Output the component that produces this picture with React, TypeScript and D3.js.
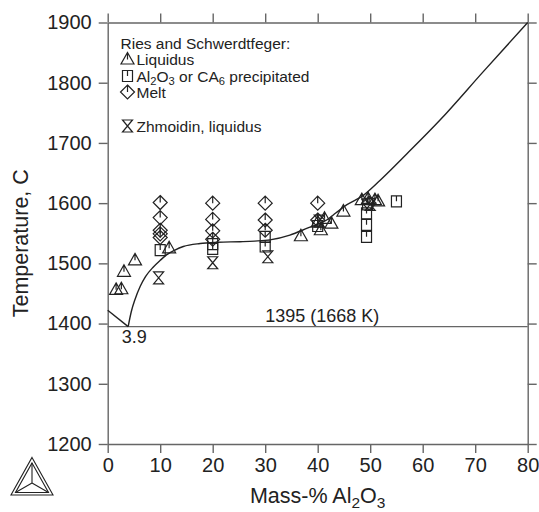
import React, { useEffect, useRef } from "react";
import * as d3 from "d3";

// axis ticks
const xTicks = [0, 10, 20, 30, 40, 50, 60, 70, 80];
const yTicks = [1200, 1300, 1400, 1500, 1600, 1700, 1800, 1900];

// calculated liquidus (CaO side, metastable branch down to eutectic)
const leftX = [0, 3.9];
const leftT = [1422, 1395];

// calculated liquidus from eutectic to 80 %
const curveX = [3.9, 4.5, 5.2, 6.2, 7.2, 8.7, 10, 11.2, 12.8, 14.4, 17.6, 21, 25.2, 28, 30.9, 34.7, 37.9, 41.7, 43.5, 45.5, 48.7, 51.9, 57, 63.3, 71.5, 80];
const curveT = [1395, 1420, 1440, 1462, 1478, 1494, 1505, 1514, 1522, 1528, 1533, 1535, 1536, 1537, 1539, 1547, 1558, 1572, 1584, 1597, 1613, 1638, 1682, 1738, 1818, 1900];

// eutectic
const eutecticX = 3.9;
const eutecticT = 1395;
const eutecticLabel = "3.9";
const isothermLabel = "1395 (1668 K)";

// Ries and Schwerdtfeger: liquidus
const liqX = [1.6, 2.6, 3.1, 5.2, 11.7, 36.8, 40, 40.6, 41.3, 42.6, 44.9, 48.4, 49.6, 50.9, 51.5];
const liqT = [1456, 1457, 1486, 1505, 1525, 1545, 1568, 1555, 1574, 1566, 1586, 1605, 1607, 1605, 1603];

// Al2O3 or CA6 precipitated
const precX = [10, 20, 20, 30, 30, 40, 49.3, 49.3, 49.3, 49.5, 55];
const precT = [1522, 1532, 1524, 1544, 1528, 1562, 1583, 1564, 1544, 1598, 1603];

// Melt
const meltX = [10, 10, 10, 10, 10, 20, 20, 20, 20, 30, 30, 30, 40, 40, 49.8];
const meltT = [1601, 1576, 1555, 1549, 1543, 1600, 1573, 1554, 1540, 1600, 1572, 1555, 1600, 1572, 1600];

// Zhmoidin, liquidus
const zhmX = [9.7, 20, 30.5, 40.3, 50];
const zhmT = [1476, 1501, 1511, 1570, 1598];

const legendTitle = "Ries and Schwerdtfeger:";
const legendLabels = [
  [{ t: "Liquidus" }],
  [{ t: "Al" }, { t: "2", sub: true }, { t: "O" }, { t: "3", sub: true }, { t: " or CA" }, { t: "6", sub: true }, { t: " precipitated" }],
  [{ t: "Melt" }],
  [{ t: "Zhmoidin, liquidus" }],
];

const FONT = "'Liberation Sans', Arial, Helvetica, sans-serif";
const INK = "#222";
const AXIS = "#666";

// symbol outlines (relative to the point)
const symbolPath = (kind) => {
  if (kind === "tri") return "M0,-7L6.5,4.5L-6.5,4.5Z M0,-7L0,0";
  if (kind === "sq") return "M-5,-5.5H5V5.5H-5Z M0,-5.5V0";
  if (kind === "dia") return "M0,-7L7,0L0,7L-7,0Z M0,-7V0";
  return "M-5,-6H5L-5,6H5Z";
};

function addText(g, parts, x, y, size, drop = 5) {
  const text = g.append("text")
    .attr("x", x)
    .attr("y", y)
    .attr("font-size", size)
    .attr("font-family", FONT)
    .attr("fill", INK);
  let shifted = false;
  parts.forEach((p) => {
    const ts = text.append("tspan").text(p.t);
    if (p.sub && !shifted) {
      ts.attr("dy", drop).attr("font-size", size * 0.72);
      shifted = true;
    } else if (!p.sub && shifted) {
      ts.attr("dy", -drop);
      shifted = false;
    }
  });
  return text;
}

export default function App() {
  const svgRef = useRef(null);

  useEffect(() => {
    const width = 539;
    const height = 512;
    const margin = { top: 22.5, right: 11.3, bottom: 68, left: 107.7 };

    const svg = d3.select(svgRef.current)
      .attr("width", width)
      .attr("height", height);
    svg.selectAll("*").remove();

    const x = d3.scaleLinear().domain([0, 80]).range([margin.left, width - margin.right]);
    const y = d3.scaleLinear().domain([1200, 1900]).range([height - margin.bottom, margin.top]);

    const axisStyle = (g) => {
      g.select(".domain").attr("stroke", AXIS).attr("stroke-width", 1.4);
      g.selectAll(".tick line").attr("stroke", AXIS).attr("stroke-width", 1.4);
      g.selectAll(".tick text").attr("fill", INK).attr("font-size", 20).attr("font-family", FONT);
    };

    svg.append("g")
      .attr("transform", `translate(0,${y(1200)})`)
      .call(d3.axisBottom(x).tickValues(xTicks).tickSize(9).tickSizeOuter(0).tickPadding(5))
      .call(axisStyle);
    svg.append("g")
      .attr("transform", `translate(0,${y(1900)})`)
      .call(d3.axisTop(x).tickValues(xTicks).tickSize(9).tickSizeOuter(0).tickFormat(() => ""))
      .call(axisStyle);
    svg.append("g")
      .attr("transform", `translate(${x(0)},0)`)
      .call(d3.axisLeft(y).tickValues(yTicks).tickSize(9).tickSizeOuter(0).tickPadding(7).tickFormat(d3.format("d")))
      .call(axisStyle);
    svg.append("g")
      .attr("transform", `translate(${x(80)},0)`)
      .call(d3.axisRight(y).tickValues(yTicks).tickSize(9).tickSizeOuter(0).tickFormat(() => ""))
      .call(axisStyle);

    // eutectic isotherm
    svg.append("line")
      .attr("x1", x(0)).attr("x2", x(80))
      .attr("y1", y(eutecticT)).attr("y2", y(eutecticT))
      .attr("stroke", AXIS).attr("stroke-width", 1.4);

    const line = d3.line().x((d) => x(d[0])).y((d) => y(d[1]));
    svg.append("path")
      .datum(leftX.map((v, i) => [v, leftT[i]]))
      .attr("d", line)
      .attr("fill", "none").attr("stroke", INK).attr("stroke-width", 1.4);
    svg.append("path")
      .datum(curveX.map((v, i) => [v, curveT[i]]))
      .attr("d", line.curve(d3.curveMonotoneX))
      .attr("fill", "none").attr("stroke", INK).attr("stroke-width", 1.4);

    addText(svg, [{ t: isothermLabel }], x(30), y(eutecticT) - 5, 18);
    addText(svg, [{ t: eutecticLabel }], x(eutecticX) + 6, y(eutecticT) + 16, 18)
      .attr("text-anchor", "middle");

    // experimental points
    const sets = [
      { kind: "tri", xs: liqX, ts: liqT },
      { kind: "sq", xs: precX, ts: precT },
      { kind: "dia", xs: meltX, ts: meltT },
      { kind: "hg", xs: zhmX, ts: zhmT },
    ];
    sets.forEach((s) => {
      svg.append("g")
        .selectAll("path")
        .data(s.xs.map((v, i) => [v, s.ts[i]]))
        .join("path")
        .attr("transform", (d) => `translate(${x(d[0])},${y(d[1])})`)
        .attr("d", symbolPath(s.kind))
        .attr("fill", "none")
        .attr("stroke", INK)
        .attr("stroke-width", 1.2);
    });

    // legend
    const lg = svg.append("g");
    addText(lg, [{ t: legendTitle }], 120.5, 48.5, 15.5);
    const rows = [65, 81.5, 97.5, 131.5];
    const kinds = ["tri", "sq", "dia", "hg"];
    legendLabels.forEach((parts, i) => {
      lg.append("path")
        .attr("transform", `translate(${127.5},${rows[i] - 5.5})`)
        .attr("d", symbolPath(kinds[i]))
        .attr("fill", "none").attr("stroke", INK).attr("stroke-width", 1.2);
      addText(lg, parts, 136.5, rows[i], 15.5, 3.5);
    });

    // axis titles
    svg.append("text")
      .attr("transform", `translate(28,${(y(1200) + y(1900)) / 2 + 10}) rotate(-90)`)
      .attr("text-anchor", "middle")
      .attr("font-size", 21.5)
      .attr("font-family", FONT)
      .attr("fill", INK)
      .text("Temperature, C");
    addText(svg, [{ t: "Mass-% Al" }, { t: "2", sub: true }, { t: "O" }, { t: "3", sub: true }], (x(0) + x(80)) / 2, 503, 21.5)
      .attr("text-anchor", "middle");

    // Thermo-Calc logo
    const logo = svg.append("g").attr("fill", "none").attr("stroke", INK).attr("stroke-width", 1.1);
    logo.append("path").attr("d", "M32,457.5L53,495L11,495Z");
    logo.append("path").attr("d", "M32,463L48.5,492.5L15.5,492.5Z");
    logo.append("path").attr("d", "M32,463L32,483M48.5,492.5L32,483M15.5,492.5L32,483");
  }, []);

  return (
    <div>
      <svg ref={svgRef} style={{ position: "absolute", left: 0, top: 0 }}></svg>
    </div>
  );
}
